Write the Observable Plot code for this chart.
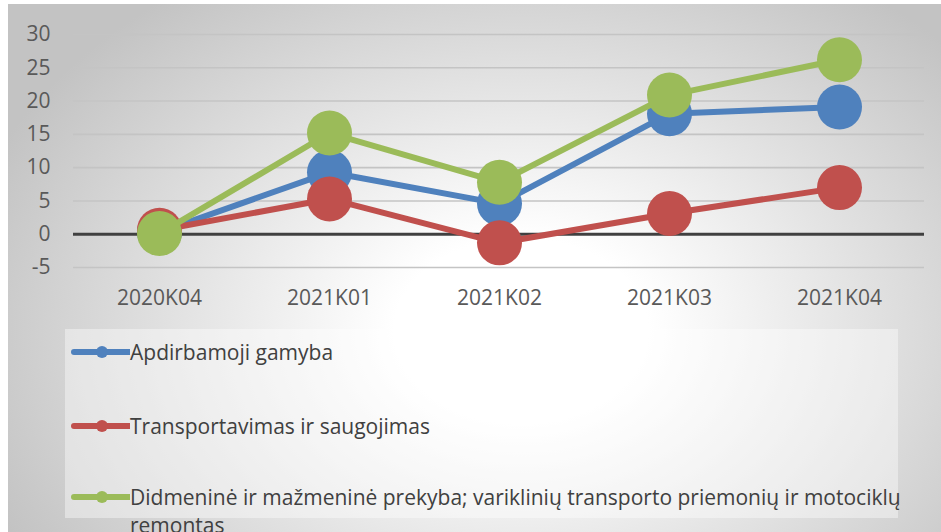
<!DOCTYPE html>
<html><head><meta charset="utf-8">
<script src="https://cdn.jsdelivr.net/npm/d3@7"></script>
<script src="https://cdn.jsdelivr.net/npm/@observablehq/plot@0.6"></script>
<style>
body{margin:0;background:#fff;}
#wrap{position:relative;width:941px;height:532px;overflow:hidden;background:#fff;font-family:"Open Sans",sans-serif;}
#bg{position:absolute;left:8px;top:4px;right:0;bottom:0;
  background:radial-gradient(ellipse 62% 80% at 55% 62%, #ffffff 0%, #ffffff 22%, #c3c3c3 100%);}
#chart{position:absolute;left:0;top:0;}
#legend{position:absolute;left:65px;top:329px;width:833px;height:189px;background:rgba(255,255,255,0.4);}
.item{position:absolute;left:6px;display:flex;align-items:flex-start;}
.item svg{flex:none;}
.item span{font-size:21px;color:#404040;line-height:28px;width:775px;}
</style>
</head><body>
<div id="wrap"><div id="bg"></div><div id="chart"></div><div id="legend"></div></div>
<script>
const categories = ["2020K04","2021K01","2021K02","2021K03","2021K04"];
const seriesNames = [
  "Apdirbamoji gamyba",
  "Transportavimas ir saugojimas",
  "Didmeninė ir mažmeninė prekyba; variklinių transporto priemonių ir motociklų remontas"
];
const apdirbamoji = [0.3, 9.3, 4.6, 18.1, 19.1];
const transportavimas = [0.6, 5.3, -1.3, 3.1, 7.0];
const didmenine = [0.1, 15.2, 7.8, 20.9, 26.2];
const seriesColors = ["#4F81BD", "#C0504D", "#9BBB59"];
const yTicks = [-5, 0, 5, 10, 15, 20, 25, 30];

const seriesValues = [apdirbamoji, transportavimas, didmenine];
const rows = seriesValues.map((vals, s) => categories.map((c, i) => ({cat: c, value: vals[i], series: seriesNames[s]})));

const marks = [
  Plot.ruleY(yTicks.filter(d => d !== 0), {stroke: "#c4c4c4", strokeWidth: 1.6}),
  Plot.ruleY([0], {stroke: "#404040", strokeWidth: 3})
];
rows.forEach((data, s) => {
  marks.push(Plot.line(data, {x: "cat", y: "value", stroke: seriesColors[s], strokeWidth: 6}));
  marks.push(Plot.dot(data, {x: "cat", y: "value", r: 22.5, fill: seriesColors[s], stroke: null}));
});

const plot = Plot.plot({
  width: 941,
  height: 320,
  marginLeft: 73,
  marginRight: 17,
  marginTop: 34,
  marginBottom: 53,
  style: {background: "transparent", fontFamily: "Open Sans, sans-serif", fontSize: "21px", color: "#595959", overflow: "visible"},
  x: {domain: categories, type: "point", padding: 0.5, tickSize: 0, tickPadding: 23, label: null},
  y: {domain: [-5, 30], ticks: yTicks, tickSize: 0, tickPadding: 23, label: null, tickFormat: d => String(d)},
  marks
});
document.getElementById("chart").appendChild(plot);

const legendTops = [9, 83, 154];
const legend = d3.select("#legend");
seriesNames.forEach((name, s) => {
  const item = legend.append("div").attr("class", "item").style("top", legendTops[s] + "px");
  const svg = item.append("svg").attr("width", 59).attr("height", 28);
  svg.append("line").attr("x1", 3).attr("x2", 59).attr("y1", 14).attr("y2", 14)
    .attr("stroke", seriesColors[s]).attr("stroke-width", 6).attr("stroke-linecap", "round");
  svg.append("circle").attr("cx", 31).attr("cy", 14).attr("r", 6).attr("fill", seriesColors[s]);
  item.append("span").text(name);
});
</script>
</body></html>
